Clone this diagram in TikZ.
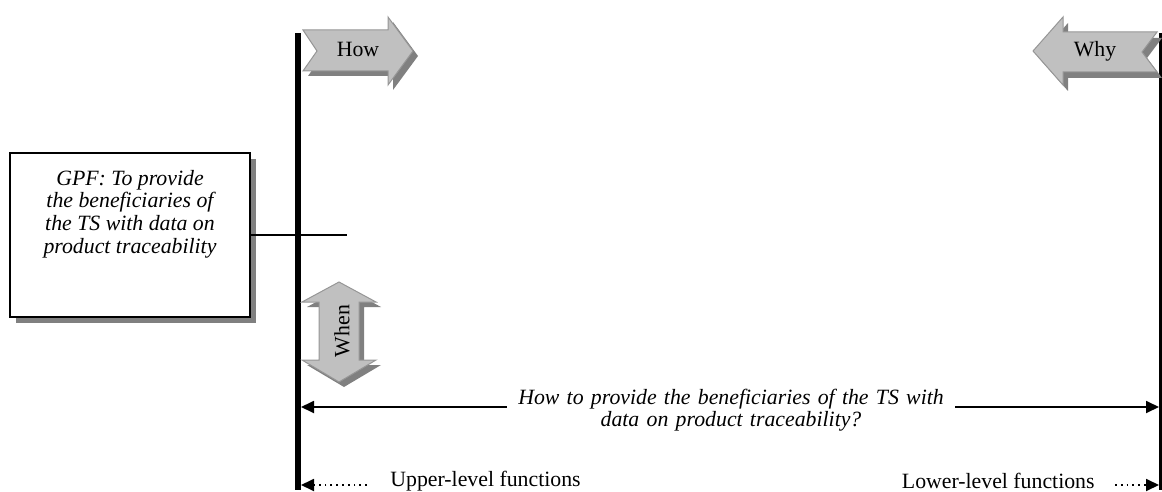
\documentclass[tikz,border=0pt]{standalone}
\usepackage{fontspec}
\setmainfont{Liberation Serif}
\usepackage{xcolor}
\usetikzlibrary{arrows.meta}

\definecolor{arrfill}{HTML}{C0C0C0}
\definecolor{arrline}{HTML}{969696}
\definecolor{arrshade}{HTML}{808080}

\tikzset{
  txt/.style={font=\fontsize{10.9}{11.3}\selectfont, inner sep=0pt},
  itxt/.style={txt, font=\fontsize{10.9}{11.3}\selectfont\itshape, align=center},
  blockarr/.style={fill=arrfill, draw=arrline, line width=0.5pt},
  blockshade/.style={fill=arrshade},
  flow/.style={line width=0.9pt, -{Triangle[length=6.5pt,width=6pt]}},
  dotflow/.style={line width=0.9pt, dotted, -{Triangle[length=6.5pt,width=6pt]}}
}

\begin{document}
\begin{tikzpicture}[x=0.5pt,y=-0.5pt]

\useasboundingbox (0,0) rectangle (1162,492);

% axis lines
\coordinate (ltop) at (298,33);
\coordinate (lbot) at (298,490);
\coordinate (rtop) at (1160.5,33);
\coordinate (rbot) at (1160.5,490);
\draw[line width=3pt] (ltop) -- (lbot);
\draw[line width=1.2pt] (rtop) -- (rbot);

% How arrow
\fill[blockshade,shift={(5,5)}] (303,30) -- (388,30) -- (388,17) -- (413,51) -- (388,85) -- (388,71) -- (303,71) -- (317,51) -- cycle;
\draw[blockarr] (303,30) -- (388,30) -- (388,17) -- (413,51) -- (388,85) -- (388,71) -- (303,71) -- (317,51) -- cycle;
\node[txt, anchor=base] (how) at (358,57) {How};

% Why arrow
\fill[blockshade,shift={(5,6)}] (1157,32) -- (1063,32) -- (1063,17) -- (1033,51) -- (1063,85) -- (1063,72) -- (1157,72) -- (1142,52) -- cycle;
\draw[blockarr] (1157,32) -- (1063,32) -- (1063,17) -- (1033,51) -- (1063,85) -- (1063,72) -- (1157,72) -- (1142,52) -- cycle;
\node[txt, anchor=base] (why) at (1095,57) {Why};

% When arrow
\fill[blockshade,shift={(5,5)}] (339,282) -- (376,302) -- (359,302) -- (359,360) -- (376,360) -- (339,382) -- (302,360) -- (319,360) -- (319,302) -- (302,302) -- cycle;
\draw[blockarr] (339,282) -- (376,302) -- (359,302) -- (359,360) -- (376,360) -- (339,382) -- (302,360) -- (319,360) -- (319,302) -- (302,302) -- cycle;
\node[txt,rotate=90] (when) at (342,331) {When};

% GPF box
\fill[arrshade] (16,159) rectangle (256,323);
\node[draw, line width=1pt, fill=white, minimum width=120pt, minimum height=82pt, inner sep=0pt] (gpf) at (130,235) {};
\node[itxt] (gpftxt) at (130,214) {GPF: To provide\\the beneficiaries of\\the TS with data on\\product traceability};
\coordinate (gpfend) at (347,235);
\draw[line width=0.75pt] (gpf.east) -- (gpfend);

% question
\node[itxt, text width=220pt, inner xsep=2pt] (quest) at (731,410) {How to provide the beneficiaries of the TS with\\data on product traceability?};
\coordinate (qleft) at (301,407);
\coordinate (qright) at (1159,407);
\draw[flow] (quest.west |- qleft) -- (qleft);
\draw[flow] (quest.east |- qright) -- (qright);

% levels
\coordinate (upstart) at (367,485);
\coordinate (upend) at (301,485);
\coordinate (lowstart) at (1115,485);
\coordinate (lowend) at (1159,485);
\draw[dotflow] (upstart) -- (upend);
\draw[dotflow] (lowstart) -- (lowend);
\node[txt, anchor=west] (upper) at (390,481) {Upper-level functions};
\node[txt, anchor=east] (lower) at (1095,481) {Lower-level functions};

\end{tikzpicture}
\end{document}
